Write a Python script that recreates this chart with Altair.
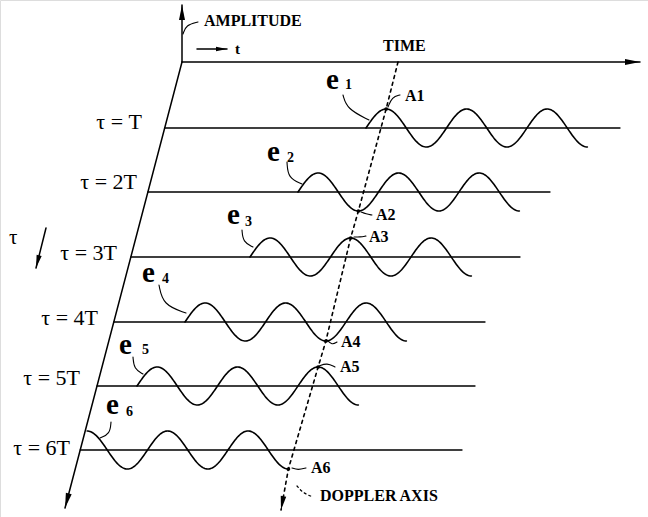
import altair as alt
import numpy as np
import pandas as pd

W, H = 648, 517
FONT = "Liberation Serif"

# ---- echo rows (tau = kT) ----
row_labels = ["τ = T", "τ = 2T", "τ = 3T", "τ = 4T", "τ = 5T", "τ = 6T"]
baseline_y = [128, 192, 257, 322, 386, 450]
baseline_end = [620, 550, 520, 485, 475, 462]
label_right_x = [142, 137, 117, 98, 80, 70]
label_y = [122, 182, 253, 318, 378, 448]

# echo waveforms e1..e6: onset time, drawn phase range (in cycles)
onset_x = [366, 298, 250, 185, 137, 67]
start_phase = [0.0, 0.0, 0.0, 0.0, 0.0, 0.25]
end_phase = [2.75, 2.75, 2.75, 2.75, 2.75, 2.75]
period = 80.5
amp = 19

# samples A1..A6 picked up along the Doppler axis (phase in cycles)
doppler_phase = [0.25, 0.75, 1.25, 1.75, 2.25, 2.75]
doppler_top = (398, 62)
doppler_tip = (281, 510)

# axes
origin = (182, 62)
amp_tip = (182, 5)
time_tip = (640, 62)
tau_tip = (65, 508)
tau_arrow = [(46, 228), (36, 268)]
t_arrow = [(197, 49), (227, 49)]

# echo labels
e_x = [326, 267, 227, 142, 119, 106]
e_y = [80, 152, 215, 273, 345, 405]
sub_x = [345, 287, 245, 162, 142, 126]
sub_y = [85, 158, 222, 279, 350, 412]
e_leaders = [
    [(343, 95), (347, 109), (369, 120)],
    [(287, 162), (288, 178), (302, 184)],
    [(242, 230), (243, 242), (253, 247)],
    [(159, 285), (163, 305), (186, 313)],
    [(133, 357), (134, 369), (143, 374)],
    [(111, 422), (110, 434), (100, 438)],
]

# sample labels
a_labels = ["A1", "A2", "A3", "A4", "A5", "A6"]
a_text_x = [405, 376, 369, 341, 340, 311]
a_text_y = [96, 215, 237, 342, 367, 468]
a_leaders = [
    [(388, 107), (392, 97), (400, 95)],
    [(361, 212), (366, 214), (372, 215)],
    [(354, 237), (360, 237), (366, 236)],
    [(327, 340), (332, 345), (337, 342)],
    [(319, 366), (327, 363), (335, 367)],
    [(292, 468), (298, 470), (306, 468)],
]
doppler_leader = [(297, 486), (303, 493), (313, 497)]
amp_leader = [(183, 34), (186, 25), (198, 22)]


def tau_axis_x(y):
    return origin[0] + (tau_tip[0] - origin[0]) * (y - origin[1]) / (tau_tip[1] - origin[1])


xs = alt.Scale(domain=[0, W], range=[0, W])
ys = alt.Scale(domain=[H, 0], range=[H, 0])
X = lambda f="x": alt.X(f"{f}:Q", scale=xs, axis=None)
Y = lambda f="y": alt.Y(f"{f}:Q", scale=ys, axis=None)


def polyline_frame(paths):
    recs = []
    for g, pts in enumerate(paths):
        for i, (x, y) in enumerate(pts):
            recs.append({"g": g, "o": i, "x": x, "y": y})
    return pd.DataFrame(recs)


def lines(paths, width=1.4, dash=None, interp="linear"):
    kw = dict(color="black", strokeWidth=width, interpolate=interp, strokeCap="round")
    if dash:
        kw["strokeDash"] = dash
    return alt.Chart(polyline_frame(paths)).mark_line(**kw).encode(
        x=X(), y=Y(), detail="g:N", order="o:Q"
    )


# axes lines
axis_paths = [
    [amp_tip, origin],
    [origin, time_tip],
    [origin, tau_tip],
    tau_arrow,
    t_arrow,
]
# baselines start on the slanted tau axis
base_paths = [[(tau_axis_x(y), y), (xe, y)] for y, xe in zip(baseline_y, baseline_end)]

# echo waveforms
wave_paths = []
for x0, y0, p0, p1 in zip(onset_x, baseline_y, start_phase, end_phase):
    ph = np.linspace(p0, p1, 220)
    wave_paths.append(list(zip(x0 + ph * period, y0 - amp * np.sin(2 * np.pi * ph))))

# Doppler axis points sampled on each echo
a_pts = [
    (x0 + ph * period, y0 - amp * np.sin(2 * np.pi * ph))
    for x0, y0, ph in zip(onset_x, baseline_y, doppler_phase)
]
doppler_path = [doppler_top] + a_pts + [doppler_tip]

# arrowheads: tip position and direction
ARROW = "M0,-1L0.4,1L-0.4,1Z"


def head(tip, frm, length):
    dx, dy = tip[0] - frm[0], tip[1] - frm[1]
    n = np.hypot(dx, dy)
    ux, uy = dx / n, dy / n
    ang = np.degrees(np.arctan2(ux, -uy)) % 360
    return {"x": tip[0] - ux * length / 2, "y": tip[1] - uy * length / 2,
            "angle": ang, "size": length ** 2}


heads = pd.DataFrame([
    head(amp_tip, origin, 15),
    head(time_tip, origin, 15),
    head(tau_tip, origin, 15),
    head(doppler_tip, a_pts[-1], 14),
    head(tau_arrow[1], tau_arrow[0], 13),
    head(t_arrow[1], t_arrow[0], 11),
])

head_layer = alt.Chart(heads).mark_point(
    shape=ARROW, filled=True, color="black", opacity=1
).encode(
    x=X(), y=Y(),
    angle=alt.Angle("angle:Q", scale=None),
    size=alt.Size("size:Q", scale=None),
)

dots = alt.Chart(pd.DataFrame(a_pts, columns=["x", "y"])).mark_point(
    filled=True, color="black", size=14, opacity=1
).encode(x=X(), y=Y())


def text_layer(df, size, weight="bold", align="left", font=FONT):
    return alt.Chart(df).mark_text(
        font=font, fontSize=size, fontWeight=weight, align=align,
        baseline="middle", color="black"
    ).encode(x=X(), y=Y(), text="t:N")


row_text = text_layer(
    pd.DataFrame({"x": label_right_x, "y": label_y, "t": row_labels}), 22,
    weight="normal", align="right")
e_text = text_layer(pd.DataFrame({"x": e_x, "y": e_y, "t": ["e"] * 6}), 29)
sub_text = text_layer(
    pd.DataFrame({"x": sub_x, "y": sub_y, "t": [str(i) for i in range(1, 7)]}), 14)
a_text = text_layer(pd.DataFrame({"x": a_text_x, "y": a_text_y, "t": a_labels}), 16)
misc_text = pd.DataFrame({
    "x": [204, 383, 235, 320, 9],
    "y": [21, 46, 49, 496, 238],
    "t": ["AMPLITUDE", "TIME", "t", "DOPPLER AXIS", "τ"],
})
misc_bold = text_layer(misc_text.iloc[[0, 1, 3]], 16)
misc_t = text_layer(misc_text.iloc[[2]], 15)
misc_tau = text_layer(misc_text.iloc[[4]], 21, weight="normal")

chart = alt.layer(
    lines(axis_paths, width=1.5),
    lines(base_paths, width=1.3),
    lines(wave_paths, width=1.6),
    lines([doppler_path], width=1.6, dash=[3, 4]),
    lines(e_leaders, width=1.1, interp="basis"),
    lines(a_leaders + [amp_leader], width=1.1, interp="basis"),
    lines([doppler_leader], width=1.2, dash=[2, 3], interp="basis"),
    head_layer,
    dots,
    row_text, e_text, sub_text, a_text, misc_bold, misc_t, misc_tau,
).properties(
    width=W, height=H, padding=0, autosize=alt.AutoSizeParams(type="none")
).configure_view(stroke=None).configure(background="white")

chart.save("out.html", embed_options={"renderer": "svg", "actions": False})
